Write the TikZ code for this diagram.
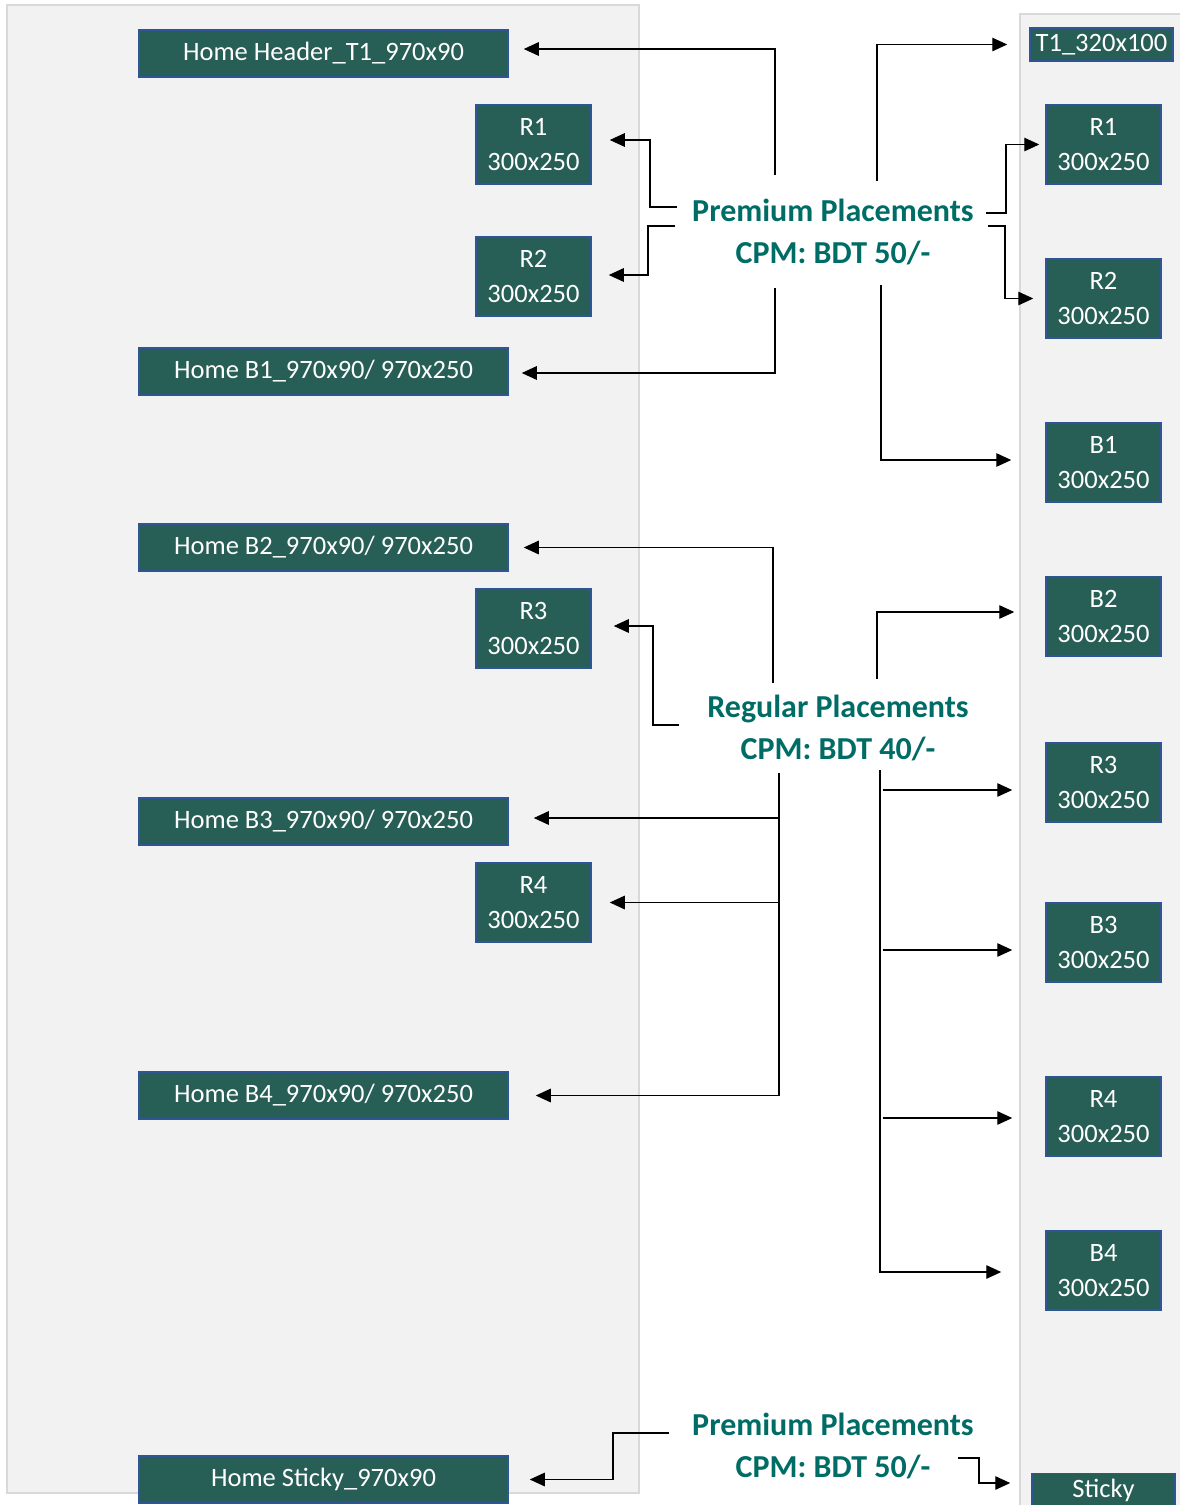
\documentclass[tikz,border=0pt]{standalone}
\usepackage{fontspec}
\setmainfont{Carlito}
\definecolor{SlotGreen}{RGB}{39, 94, 85}
\definecolor{SlotEdge}{RGB}{47, 85, 151}
\definecolor{PriceTeal}{RGB}{0, 108, 102}
\definecolor{PanelGray}{RGB}{242, 242, 242}
\definecolor{PanelEdge}{RGB}{217, 217, 217}
\usetikzlibrary{arrows.meta, positioning}

\begin{document}
\begin{tikzpicture}[x=1pt, y=-1pt,
        slot/.style={rectangle, fill=SlotGreen, draw=SlotEdge, line width=1.5pt, text=white, inner sep=2pt, font=\fontsize{26.5}{35}\selectfont, align=center},
        wide/.style={slot, minimum width=369pt, minimum height=47pt},
        square/.style={slot, minimum width=115pt, minimum height=79pt},
        strip/.style={slot, minimum width=143pt, minimum height=33pt},
        price/.style={text=PriceTeal, font=\fontsize{32}{42}\selectfont\bfseries, align=center, inner sep=0pt},
        panel/.style={fill=PanelGray, draw=PanelEdge, line width=2pt},
        arrow/.style={-{Triangle[length=15pt, width=13.5pt]}, line width=1.3pt, black}
    ]
        \useasboundingbox (0,0) rectangle (1180,1505);

        % Page panels
        \draw[panel] (7,5) rectangle (639,1493);
        \draw[panel] (1020,14) rectangle (1190,1515);

        % Desktop slots
        \node[wide] (hdr) at (323.5,53.5) {Home Header\_T1\_970x90};
        \node[square] (r1l) at (533.5,144.5) {R1\\300x250};
        \node[square] (r2l) at (533.5,276.5) {R2\\300x250};
        \node[wide] (b1l) at (323.5,371.5) {Home B1\_970x90/ 970x250};
        \node[wide] (b2l) at (323.5,547.5) {Home B2\_970x90/ 970x250};
        \node[square] (r3l) at (533.5,628.5) {R3\\300x250};
        \node[wide] (b3l) at (323.5,821.5) {Home B3\_970x90/ 970x250};
        \node[square] (r4l) at (533.5,902.5) {R4\\300x250};
        \node[wide] (b4l) at (323.5,1095.5) {Home B4\_970x90/ 970x250};
        \node[wide] (stkl) at (323.5,1479.5) {Home Sticky\_970x90};

        % Mobile slots
        \node[strip] (t1r) at (1101.5,44.5) {T1\_320x100};
        \node[square] (r1r) at (1103.5,144.5) {R1\\300x250};
        \node[square] (r2r) at (1103.5,298.5) {R2\\300x250};
        \node[square] (b1r) at (1103.5,462.5) {B1\\300x250};
        \node[square] (b2r) at (1103.5,616.5) {B2\\300x250};
        \node[square] (r3r) at (1103.5,782.5) {R3\\300x250};
        \node[square] (b3r) at (1103.5,942.5) {B3\\300x250};
        \node[square] (r4r) at (1103.5,1116.5) {R4\\300x250};
        \node[square] (b4r) at (1103.5,1270.5) {B4\\300x250};
        \node[strip] (stkr) at (1103.5,1490) {Sticky};

        % Prices
        \node[price] (prem1) at (833,232) {Premium Placements\\CPM: BDT 50/-};
        \node[price] (reg) at (838,728) {Regular Placements\\CPM: BDT 40/-};
        \node[price] (prem2) at (833,1446) {Premium Placements\\CPM: BDT 50/-};

        % Premium, top
        \draw[arrow, shorten >=15pt] ([shift={(-58,-57)}]prem1.center) |- ([yshift=4.5pt]hdr.east);
        \draw[arrow, shorten >=18pt] ([shift={(-156,-25)}]prem1.center) -- ++(-27,0) |- ([yshift=4.5pt]r1l.east);
        \draw[arrow, shorten >=17pt] ([shift={(-158,-6)}]prem1.center) -- ++(-27,0) |- ([yshift=1.5pt]r2l.east);
        \draw[arrow, shorten >=13pt] ([shift={(-58,56)}]prem1.center) |- ([yshift=-1.5pt]b1l.east);
        \draw[arrow, shorten >=22pt] ([shift={(44,-51)}]prem1.center) |- (t1r.west);
        \draw[arrow, shorten >=6pt] ([shift={(153,-19)}]prem1.center) -- ++(20,0) |- (r1r.west);
        \draw[arrow, shorten >=12pt] ([shift={(155,-6)}]prem1.center) -- ++(17,0) |- (r2r.west);
        \draw[arrow, shorten >=34pt] ([shift={(48,53)}]prem1.center) |- ([yshift=2.5pt]b1r.west);

        % Regular
        \coordinate (regL) at ([shift={(-59,45)}]reg.center);
        \coordinate (regR) at ([shift={(42,42)}]reg.center);
        \draw[arrow, shorten >=15pt] ([shift={(-65,-45)}]reg.center) |- (b2l.east);
        \draw[arrow, shorten >=22pt] ([shift={(-159,-3)}]reg.center) -- ++(-26,0) |- ([yshift=2.5pt]r3l.east);
        \draw[arrow, shorten >=31pt] ([shift={(39,-49)}]reg.center) |- ([yshift=4.5pt]b2r.west);
        \draw[arrow, shorten >=27pt] (regL) |- (b4l.east);
        \draw[arrow, shorten >=25pt] ([yshift=3.5pt]regL |- b3l.east) -- ([yshift=3.5pt]b3l.east);
        \draw[arrow, shorten >=18pt] (regL |- r4l.east) -- (r4l.east);
        \draw[arrow, shorten >=44pt] (regR) |- ([yshift=-1.5pt]b4r.west);
        \draw[arrow, shorten >=33pt] ([shift={(3,7.5)}]regR |- r3r.west) -- ([yshift=-7.5pt]r3r.west);
        \draw[arrow, shorten >=33pt] ([shift={(3,7.5)}]regR |- b3r.west) -- ([yshift=-7.5pt]b3r.west);
        \draw[arrow, shorten >=33pt] ([shift={(3,1.5)}]regR |- r4r.west) -- ([yshift=-1.5pt]r4r.west);

        % Premium, sticky
        \draw[arrow, shorten >=21pt] ([shift={(-164,-13)}]prem2.center) -- ++(-56,0) |- (stkl.east);
        \draw[arrow, shorten >=21pt] ([shift={(125,12)}]prem2.center) -- ++(21,0) |- ([yshift=7pt]stkr.west);
    \end{tikzpicture}
\end{document}
